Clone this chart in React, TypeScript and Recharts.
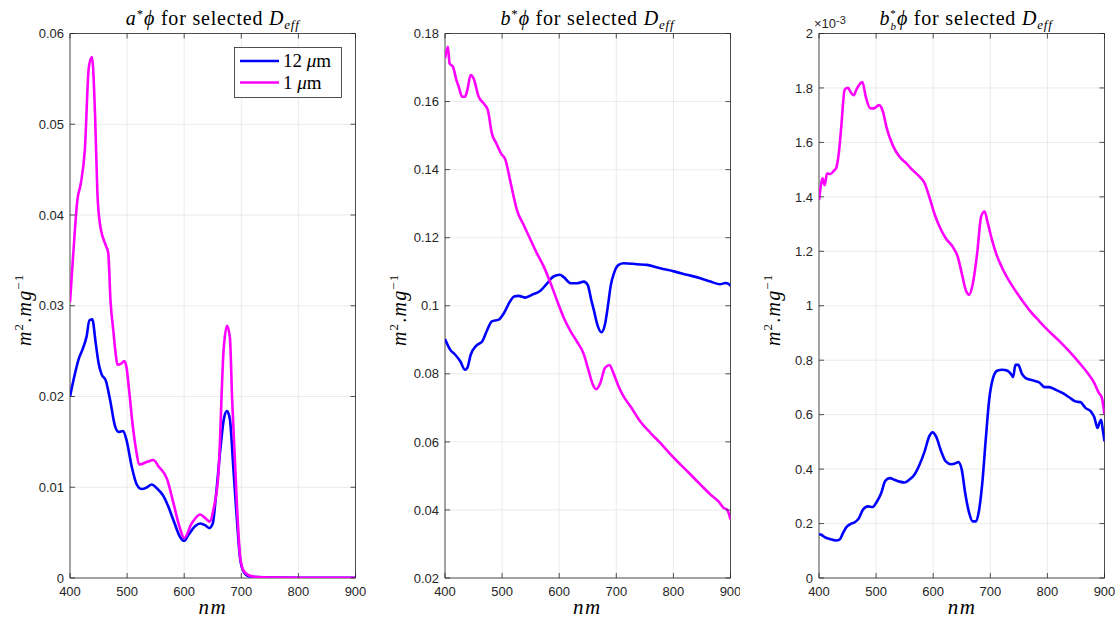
import React from 'react'
import {
  LineChart,
  Line,
  XAxis,
  YAxis,
  CartesianGrid,
  ReferenceArea,
  Legend,
} from 'recharts'

type Pt = [number, number]

// wavelength (nm), value
const wavelengthTicks = [400, 500, 600, 700, 800, 900]
const aPhiTicks = [0, 0.01, 0.02, 0.03, 0.04, 0.05, 0.06]
const bPhiTicks = [0.02, 0.04, 0.06, 0.08, 0.1, 0.12, 0.14, 0.16, 0.18]
const bbPhiTicks = [0, 0.2, 0.4, 0.6, 0.8, 1, 1.2, 1.4, 1.6, 1.8, 2] // x 1e-3

const seriesNames = ['12 μm', '1 μm']

const aPhi12: Pt[] = [
  [400, 0.02], [409, 0.0226], [415, 0.0241], [422, 0.0252], [429, 0.0266],
  [434, 0.0284], [439, 0.0285], [445, 0.0259], [450, 0.0237], [455, 0.0225],
  [463, 0.0217], [470, 0.0197], [479, 0.0167], [485, 0.0161], [493, 0.0162],
  [499, 0.0152], [508, 0.0123], [517, 0.0103], [526, 0.0098], [535, 0.01],
  [543, 0.0103], [552, 0.0099], [564, 0.009], [572, 0.0079], [581, 0.0064],
  [593, 0.0045], [600, 0.0041], [607, 0.0047], [619, 0.0057], [628, 0.006],
  [637, 0.0058], [644, 0.0055], [650, 0.006], [656, 0.0093], [663, 0.014],
  [670, 0.0177], [675, 0.0184], [680, 0.0175], [686, 0.0122], [692, 0.0067],
  [698, 0.0021], [704, 0.0007], [713, 0.0002], [727, 0.0001], [760, 0.00005],
  [800, 0.00003], [850, 0.00002], [900, 0.00002],
]

const aPhi1: Pt[] = [
  [400, 0.0304], [406, 0.036], [413, 0.0417], [419, 0.0435], [426, 0.0472],
  [433, 0.0563], [438.5, 0.0574], [444, 0.0508], [448, 0.0424], [453, 0.0388],
  [463, 0.0366], [467, 0.0358], [471, 0.0305], [476, 0.0272], [480, 0.0247],
  [483, 0.0235], [489, 0.0236], [495, 0.0239], [499, 0.0232], [503, 0.021],
  [509, 0.0173], [515, 0.0144], [522, 0.0125], [535, 0.0128], [546, 0.013],
  [555, 0.0123], [570, 0.0109], [581, 0.0083], [592, 0.0056], [600, 0.0044],
  [613, 0.006], [628, 0.007], [637, 0.0066], [645, 0.0062], [651, 0.0075],
  [660, 0.0115], [669, 0.0251], [675, 0.0278], [680, 0.0265], [684, 0.0196],
  [692, 0.0085], [698, 0.0023], [704, 0.0008], [713, 0.0003], [727, 0.0001],
  [760, 0.00005], [800, 0.00003], [850, 0.00002], [900, 0.00002],
]

const bPhi12: Pt[] = [
  [400, 0.0902], [409, 0.0871], [418, 0.0856], [427, 0.0836], [435, 0.0812],
  [439, 0.0817], [445, 0.0856], [455, 0.0883], [465, 0.0895], [473, 0.0925],
  [482, 0.0954], [494, 0.0959], [503, 0.0978], [514, 0.1013], [521, 0.1027],
  [529, 0.1029], [541, 0.1024], [552, 0.1032], [567, 0.1044], [579, 0.1066],
  [590, 0.1086], [601, 0.1091], [608, 0.1084], [620, 0.1066], [631, 0.1066],
  [643, 0.1071], [650, 0.1061], [656, 0.1018], [661, 0.0985], [666, 0.0949],
  [674, 0.0922], [680, 0.0944], [686, 0.1008], [690, 0.1057], [696, 0.1096],
  [704, 0.112], [713, 0.1125], [736, 0.1122], [754, 0.112], [777, 0.111],
  [801, 0.1101], [824, 0.1091], [847, 0.1081], [865, 0.1071], [882, 0.1063],
  [891, 0.1067], [896, 0.1065], [900, 0.1058],
]

const bPhi1: Pt[] = [
  [400, 0.1727], [405, 0.1761], [408, 0.1712], [414, 0.1702], [420, 0.1663],
  [424, 0.1644], [430, 0.1614], [435, 0.1614], [439, 0.1633], [445, 0.1678],
  [450, 0.1668], [459, 0.1614], [468, 0.1594], [475, 0.1575], [482, 0.1507],
  [490, 0.1477], [498, 0.1448], [506, 0.1428], [514, 0.1369], [526, 0.1281],
  [539, 0.1233], [550, 0.1193], [561, 0.1154], [573, 0.1115], [587, 0.1057],
  [599, 0.1003], [608, 0.0965], [620, 0.0925], [631, 0.0895], [643, 0.0858],
  [651, 0.0812], [659, 0.0768], [665, 0.0755], [672, 0.0773], [680, 0.0817],
  [688, 0.0826], [695, 0.0802], [704, 0.0763], [713, 0.0733], [725, 0.0704],
  [742, 0.066], [760, 0.0626], [777, 0.0597], [795, 0.0563], [812, 0.0534],
  [830, 0.0504], [847, 0.0475], [865, 0.0445], [879, 0.0425], [888, 0.0406],
  [894, 0.0401], [900, 0.0372],
]

// backscattering in units of 1e-3
const bbPhi12: Pt[] = [
  [400, 0.161], [404, 0.159], [410, 0.15], [419, 0.143], [430, 0.138],
  [436, 0.141], [442, 0.165], [448, 0.187], [455, 0.198], [462, 0.204],
  [470, 0.22], [477, 0.251], [486, 0.263], [494, 0.261], [501, 0.279],
  [509, 0.312], [516, 0.357], [524, 0.367], [532, 0.361], [541, 0.354],
  [550, 0.351], [558, 0.361], [567, 0.379], [576, 0.416], [585, 0.465],
  [593, 0.52], [599, 0.535], [605, 0.52], [614, 0.465], [622, 0.428],
  [631, 0.418], [640, 0.422], [644, 0.426], [650, 0.398], [656, 0.312],
  [663, 0.239], [669, 0.208], [675, 0.208], [680, 0.245], [686, 0.349],
  [692, 0.508], [698, 0.654], [704, 0.728], [712, 0.761], [721, 0.765],
  [730, 0.761], [736, 0.75], [740, 0.738], [744, 0.783], [749, 0.783],
  [755, 0.752], [762, 0.734], [774, 0.726], [786, 0.718], [795, 0.701],
  [803, 0.701], [815, 0.691], [827, 0.679], [838, 0.664], [850, 0.648],
  [858, 0.646], [867, 0.624], [876, 0.612], [882, 0.591], [888, 0.551],
  [891, 0.569], [894, 0.581], [897, 0.544], [900, 0.502],
]

const bbPhi1: Pt[] = [
  [400, 1.388], [403, 1.437], [406, 1.468], [410, 1.443], [414, 1.486],
  [420, 1.484], [427, 1.498], [430, 1.505], [435, 1.566], [439, 1.657],
  [445, 1.794], [451, 1.801], [455, 1.786], [461, 1.773], [465, 1.792],
  [472, 1.816], [476, 1.822], [482, 1.767], [490, 1.725], [496, 1.725],
  [505, 1.737], [512, 1.713], [518, 1.657], [529, 1.59], [541, 1.547],
  [553, 1.523], [564, 1.498], [576, 1.474], [585, 1.45], [593, 1.401],
  [602, 1.339], [611, 1.291], [622, 1.248], [634, 1.217], [643, 1.18],
  [650, 1.119], [658, 1.052], [663, 1.04], [669, 1.077], [677, 1.193],
  [684, 1.328], [690, 1.346], [695, 1.309], [703, 1.242], [710, 1.193],
  [721, 1.138], [739, 1.071], [757, 1.016], [768, 0.985], [786, 0.943],
  [803, 0.906], [821, 0.87], [838, 0.833], [856, 0.79], [870, 0.754],
  [882, 0.717], [890, 0.68], [895, 0.665], [900, 0.6],
]

const BLUE = '#0000ff'
const MAGENTA = '#ff00ff'
const AXIS_COLOR = '#262626'
const GRID_COLOR = '#e6e6e6'
const SANS = '"Liberation Sans", Arial, Helvetica, sans-serif'
const SERIF = '"Liberation Serif", "Times New Roman", serif'

const PLOT_TOP = 33.5
const PLOT_BOTTOM = 578
const PLOT_H = PLOT_BOTTOM - PLOT_TOP
const PLOT_W = 285.5
const Y_AXIS_W = 80
const RIGHT_PAD = 10
const TICK_LEN = 5
const PANEL_LEFTS = [70, 444.7, 819.3]

const toRows = (pts: Pt[]) => pts.map(([nm, v]) => ({ nm, v }))

function YTick(props: any) {
  const { x, y, payload } = props
  return (
    <g>
      <line x1={x} x2={x + TICK_LEN} y1={y} y2={y} stroke={AXIS_COLOR} strokeWidth={0.8} />
      <line x1={x + PLOT_W} x2={x + PLOT_W - TICK_LEN} y1={y} y2={y} stroke={AXIS_COLOR} strokeWidth={0.8} />
      <text x={x - 6} y={y} dy="0.36em" textAnchor="end" style={{ fontFamily: SANS }} fontSize={13} fill={AXIS_COLOR}>
        {String(payload.value)}
      </text>
    </g>
  )
}

function XTick(props: any) {
  const { x, y, payload } = props
  return (
    <g>
      <line x1={x} x2={x} y1={y} y2={y - TICK_LEN} stroke={AXIS_COLOR} strokeWidth={0.8} />
      <line x1={x} x2={x} y1={y - PLOT_H} y2={y - PLOT_H + TICK_LEN} stroke={AXIS_COLOR} strokeWidth={0.8} />
      <text x={x} y={y + 18} textAnchor="middle" style={{ fontFamily: SANS }} fontSize={13} fill={AXIS_COLOR}>
        {String(payload.value)}
      </text>
    </g>
  )
}

function renderLegend(props: any) {
  const items = [...(props.payload || [])].sort(
    (a: any, b: any) => seriesNames.indexOf(a.value) - seriesNames.indexOf(b.value),
  )
  return (
    <svg width={108} height={51} style={{ display: 'block' }}>
      <rect x={0.5} y={0.5} width={107} height={50} fill="#fff" stroke={AXIS_COLOR} strokeWidth={0.8} />
      {items.map((it: any, i: number) => {
        const cy = 14 + i * 21.5
        const [num] = String(it.value).split(' ')
        return (
          <g key={it.value}>
            <line x1={6} x2={45} y1={cy} y2={cy} stroke={it.color} strokeWidth={2.5} />
            <text x={49} y={cy + 6} style={{ fontFamily: SERIF }} fontSize={19} fill="#000">
              {num} <tspan fontStyle="italic">μ</tspan>m
            </text>
          </g>
        )
      })}
    </svg>
  )
}

interface PanelProps {
  left: number
  series12: Pt[]
  series1: Pt[]
  domain: [number, number]
  ticks: number[]
  legend?: boolean
}

function Panel({ left, series12, series1, domain, ticks, legend }: PanelProps) {
  return (
    <div style={{ position: 'absolute', left: left - Y_AXIS_W, top: 0 }}>
      <LineChart
        width={Y_AXIS_W + PLOT_W + RIGHT_PAD}
        height={621}
        margin={{ top: PLOT_TOP, right: RIGHT_PAD, bottom: 0, left: 0 }}
      >
        <CartesianGrid stroke={GRID_COLOR} strokeWidth={0.8} />
        <XAxis
          type="number"
          dataKey="nm"
          domain={[400, 900]}
          ticks={wavelengthTicks}
          interval={0}
          height={621 - PLOT_BOTTOM}
          tickSize={0}
          tickMargin={0}
          tickLine={false}
          axisLine={false}
          tick={<XTick />}
          allowDataOverflow
        />
        <YAxis
          type="number"
          dataKey="v"
          domain={domain}
          ticks={ticks}
          interval={0}
          width={Y_AXIS_W}
          tickSize={0}
          tickMargin={0}
          tickLine={false}
          axisLine={false}
          tick={<YTick />}
          allowDataOverflow
        />
        <Line
          data={toRows(series12)}
          dataKey="v"
          name={seriesNames[0]}
          type="monotone"
          stroke={BLUE}
          strokeWidth={2.6}
          dot={false}
          isAnimationActive={false}
        />
        <Line
          data={toRows(series1)}
          dataKey="v"
          name={seriesNames[1]}
          type="monotone"
          stroke={MAGENTA}
          strokeWidth={2.6}
          dot={false}
          isAnimationActive={false}
        />
        <ReferenceArea
          x1={400}
          x2={900}
          y1={domain[0]}
          y2={domain[1]}
          fill="none"
          stroke={AXIS_COLOR}
          strokeWidth={0.8}
          ifOverflow="visible"
        />
        {legend && (
          <Legend
            layout="horizontal"
            align="center"
            verticalAlign="middle"
            content={renderLegend}
            wrapperStyle={{ left: 234 - (left - Y_AXIS_W), top: 46.5, width: 108, height: 51 }}
          />
        )}
      </LineChart>
    </div>
  )
}

const serif = { fontFamily: SERIF }

// math-style annotations drawn over the charts
function Labels() {
  const cx = PANEL_LEFTS.map((l) => l + PLOT_W / 2)
  const cy = PLOT_TOP + PLOT_H / 2
  const sup = { fontSize: 13 }
  const small = { fontSize: 11 }
  return (
    <svg
      width={1116}
      height={621}
      style={{ position: 'absolute', left: 0, top: 0, pointerEvents: 'none' }}
    >
      <text x={cx[0]} y={25} textAnchor="middle" fontSize={20} letterSpacing={0.8} style={serif}>
        <tspan fontStyle="italic">a</tspan>
        <tspan {...sup} dy={-7}>*</tspan>
        <tspan fontStyle="italic" dy={7}>ϕ</tspan> for selected <tspan fontStyle="italic">D</tspan>
        <tspan fontStyle="italic" {...sup} dy={4}>eff</tspan>
      </text>
      <text x={cx[1]} y={25} textAnchor="middle" fontSize={20} letterSpacing={0.8} style={serif}>
        <tspan fontStyle="italic">b</tspan>
        <tspan {...sup} dy={-7}>*</tspan>
        <tspan fontStyle="italic" dy={7}>ϕ</tspan> for selected <tspan fontStyle="italic">D</tspan>
        <tspan fontStyle="italic" {...sup} dy={4}>eff</tspan>
      </text>
      {/* b_b^* : star above, subscript b below */}
      <text x={cx[2] + 4} y={25} textAnchor="middle" fontSize={20} letterSpacing={0.8} style={serif}>
        <tspan fontStyle="italic">b</tspan>
        <tspan {...small} dy={-8}>*</tspan>
        <tspan fontStyle="italic" {...small} dx={-6} dy={13}>b</tspan>
        <tspan fontStyle="italic" dy={-5}>ϕ</tspan> for selected <tspan fontStyle="italic">D</tspan>
        <tspan fontStyle="italic" {...sup} dy={4}>eff</tspan>
      </text>

      {PANEL_LEFTS.map((l, i) => (
        <g key={i}>
          <text
            transform={`translate(${l - 39}, ${cy + 4}) rotate(-90)`}
            textAnchor="middle"
            fontSize={20}
            letterSpacing={1.2}
            style={serif}
          >
            <tspan fontStyle="italic">m</tspan>
            <tspan fontSize={13} dy={-8}>2</tspan>
            <tspan dy={8}>.</tspan>
            <tspan fontStyle="italic">mg</tspan>
            <tspan fontSize={13} dy={-8}>−1</tspan>
          </text>
          <text x={cx[i]} y={614} textAnchor="middle" fontSize={21} fontStyle="italic" letterSpacing={1.5} style={serif}>
            nm
          </text>
        </g>
      ))}

      <text x={814} y={28} style={{ fontFamily: SANS }} fontSize={13} fill={AXIS_COLOR}>
        ×10<tspan fontSize={11} dy={-4}>-3</tspan>
      </text>
    </svg>
  )
}

export default function App() {
  return (
    <div style={{ position: 'absolute', left: 0, top: 0, width: 1116, height: 621, background: '#fff' }}>
      <Panel left={PANEL_LEFTS[0]} series12={aPhi12} series1={aPhi1} domain={[0, 0.06]} ticks={aPhiTicks} legend />
      <Panel left={PANEL_LEFTS[1]} series12={bPhi12} series1={bPhi1} domain={[0.02, 0.18]} ticks={bPhiTicks} />
      <Panel left={PANEL_LEFTS[2]} series12={bbPhi12} series1={bbPhi1} domain={[0, 2]} ticks={bbPhiTicks} />
      <Labels />
    </div>
  )
}
